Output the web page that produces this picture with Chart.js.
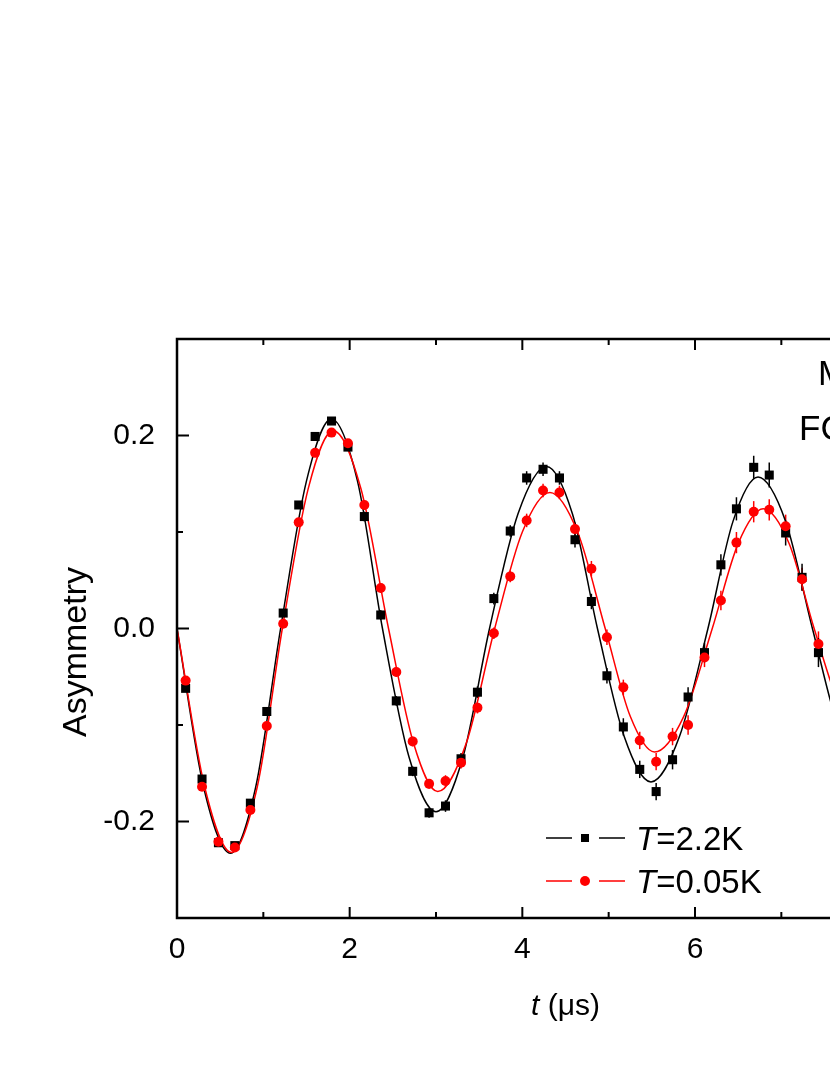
<!DOCTYPE html>
<html>
<head>
<meta charset="utf-8">
<script src="https://cdn.jsdelivr.net/npm/chart.js@4.4.1/dist/chart.umd.min.js"></script>
<style>
  html, body { margin: 0; padding: 0; background: #fff; overflow: hidden; }
  #wrap { width: 1000px; height: 1075px; }
</style>
</head>
<body>
<div id="wrap"><canvas id="asym" width="1000" height="1075"></canvas></div>
<script>
// ── Data ─────────────────────────────────────────────────────────────────
const timeUs = [0.10, 0.29, 0.48, 0.67, 0.85, 1.04, 1.23, 1.41, 1.60, 1.79,
                1.98, 2.17, 2.36, 2.54, 2.73, 2.92, 3.11, 3.29, 3.48, 3.67,
                3.86, 4.05, 4.24, 4.43, 4.61, 4.80, 4.98, 5.17, 5.36, 5.55,
                5.74, 5.92, 6.11, 6.30, 6.48, 6.68, 6.86, 7.05, 7.24, 7.43];

const asym22K = [-0.062, -0.156, -0.222, -0.225, -0.181, -0.086, 0.016, 0.128, 0.199, 0.215,
                 0.188, 0.116, 0.014, -0.075, -0.148, -0.191, -0.184, -0.135, -0.066, 0.031,
                 0.101, 0.156, 0.165, 0.156, 0.092, 0.028, -0.049, -0.102, -0.146, -0.169,
                 -0.136, -0.071, -0.025, 0.066, 0.124, 0.167, 0.159, 0.099, 0.053, -0.025];
const err22K = [0.003, 0.003, 0.003, 0.003, 0.003, 0.004, 0.004, 0.004, 0.004, 0.004,
                0.004, 0.005, 0.005, 0.005, 0.005, 0.005, 0.006, 0.006, 0.006, 0.006,
                0.006, 0.007, 0.007, 0.007, 0.008, 0.008, 0.008, 0.009, 0.009, 0.009,
                0.010, 0.010, 0.010, 0.011, 0.012, 0.012, 0.013, 0.013, 0.014, 0.015];

const asym005K = [-0.054, -0.164, -0.221, -0.227, -0.188, -0.101, 0.005, 0.110, 0.182, 0.203,
                  0.192, 0.128, 0.042, -0.045, -0.117, -0.161, -0.158, -0.139, -0.082, -0.005,
                  0.054, 0.112, 0.143, 0.141, 0.103, 0.062, -0.009, -0.061, -0.116, -0.138,
                  -0.112, -0.100, -0.030, 0.029, 0.089, 0.121, 0.123, 0.106, 0.051, -0.016];
const err005K = [0.003, 0.003, 0.003, 0.003, 0.003, 0.004, 0.004, 0.004, 0.004, 0.004,
                 0.004, 0.005, 0.005, 0.005, 0.005, 0.005, 0.006, 0.006, 0.006, 0.006,
                 0.006, 0.007, 0.007, 0.007, 0.007, 0.008, 0.008, 0.008, 0.009, 0.009,
                 0.009, 0.010, 0.010, 0.010, 0.011, 0.011, 0.011, 0.012, 0.012, 0.013];

// fit curves, sampled at extrema / zero crossings / half-way points
const fitT22K = [0, 0.31, 0.62, 0.91, 1.20, 1.50, 1.79, 2.09, 2.38, 2.69, 3.00, 3.31, 3.62,
                 3.95, 4.28, 4.58, 4.87, 5.18, 5.49, 5.82, 6.15, 6.44, 6.73, 7.05, 7.36, 7.67, 7.98];
const fitA22K = [0, -0.165, -0.233, -0.165, 0, 0.153, 0.217, 0.153, 0, -0.134, -0.190, -0.134, 0,
                 0.119, 0.168, 0.119, 0, -0.112, -0.159, -0.112, 0, 0.111, 0.157, 0.111, 0, -0.105, -0.150];
const fitT005K = [0, 0.32, 0.63, 0.93, 1.22, 1.52, 1.81, 2.13, 2.45, 2.74, 3.02, 3.35, 3.68,
                  4.00, 4.32, 4.64, 4.96, 5.25, 5.53, 5.87, 6.20, 6.50, 6.79, 7.09, 7.38, 7.68, 7.98];
const fitA005K = [0, -0.164, -0.232, -0.164, 0, 0.145, 0.205, 0.145, 0, -0.119, -0.169, -0.119, 0,
                  0.100, 0.141, 0.100, 0, -0.091, -0.128, -0.091, 0, 0.088, 0.124, 0.088, 0, -0.081, -0.115];

const xMajor = [0, 2, 4, 6, 8];
const xMinor = [1, 3, 5, 7, 9];
const yMajor = [-0.2, 0.0, 0.2];
const yMinor = [-0.3, -0.1, 0.1, 0.3];

const FONT = "'Liberation Sans', Arial, sans-serif";
const RED = '#ff0000';

const pts = (xs, ys) => xs.map((x, i) => ({ x, y: ys[i] }));

// ── Plugins ──────────────────────────────────────────────────────────────
const errorBars = {
    id: 'errorBars',
    beforeDatasetsDraw(chart) {
        const { ctx } = chart;
        const yS = chart.scales.y;
        chart.data.datasets.forEach((ds, i) => {
            if (!ds.errors) return;
            const meta = chart.getDatasetMeta(i);
            ctx.save();
            ctx.strokeStyle = ds.borderColor;
            ctx.lineWidth = 1.5;
            meta.data.forEach((p, j) => {
                const v = ds.data[j].y, e = ds.errors[j];
                ctx.beginPath();
                ctx.moveTo(p.x, yS.getPixelForValue(v - e));
                ctx.lineTo(p.x, yS.getPixelForValue(v + e));
                ctx.stroke();
            });
            ctx.restore();
        });
    }
};

function mixedText(ctx, parts, x, y) {
    // parts: [[text, italic, size], ...]
    parts.forEach(([txt, it, size]) => {
        ctx.font = `${it ? 'italic ' : ''}${size}px ${FONT}`;
        ctx.fillText(txt, x, y);
        x += ctx.measureText(txt).width;
    });
}

const frame = {
    id: 'frame',
    afterDraw(chart) {
        const { ctx, chartArea: a } = chart;
        const xS = chart.scales.x, yS = chart.scales.y;
        ctx.save();
        ctx.strokeStyle = '#000';
        ctx.lineWidth = 2.5;
        ctx.strokeRect(a.left, a.top, a.right - a.left, a.bottom - a.top);

        // inward ticks on all sides
        ctx.lineWidth = 2;
        ctx.beginPath();
        const xt = (vals, len) => vals.forEach(v => {
            const px = xS.getPixelForValue(v);
            ctx.moveTo(px, a.bottom); ctx.lineTo(px, a.bottom - len);
            ctx.moveTo(px, a.top); ctx.lineTo(px, a.top + len);
        });
        const yt = (vals, len) => vals.forEach(v => {
            const py = yS.getPixelForValue(v);
            ctx.moveTo(a.left, py); ctx.lineTo(a.left + len, py);
            ctx.moveTo(a.right, py); ctx.lineTo(a.right - len, py);
        });
        xt(xMajor, 11); xt(xMinor, 6);
        yt(yMajor, 12); yt(yMinor, 6);
        ctx.stroke();

        // axis titles
        ctx.fillStyle = '#000';
        ctx.textBaseline = 'alphabetic';
        ctx.font = `34px ${FONT}`;
        ctx.save();
        ctx.translate(86, 652);
        ctx.rotate(-Math.PI / 2);
        ctx.textAlign = 'center';
        ctx.fillText('Asymmetry', 0, 0);
        ctx.restore();

        ctx.textAlign = 'left';
        mixedText(ctx, [['t', true, 30], [' (\u03bcs)', false, 30]], 531, 1015);

        // annotation, cut by the right edge of the picture
        ctx.font = `35px ${FONT}`;
        ctx.fillText('M', 818, 385);
        ctx.fillText('FC', 799, 440);

        // legend
        const rows = [
            { y: 838, color: '#000', shape: 'square', label: '=2.2K' },
            { y: 881, color: RED, shape: 'circle', label: '=0.05K' }
        ];
        rows.forEach(r => {
            ctx.strokeStyle = r.color;
            ctx.fillStyle = r.color;
            ctx.lineWidth = 1.4;
            ctx.beginPath();
            ctx.moveTo(546, r.y); ctx.lineTo(572, r.y);
            ctx.moveTo(599, r.y); ctx.lineTo(625, r.y);
            ctx.stroke();
            if (r.shape === 'square') {
                ctx.fillRect(581, r.y - 4, 8, 8);
            } else {
                ctx.beginPath(); ctx.arc(585, r.y, 5, 0, Math.PI * 2); ctx.fill();
            }
            ctx.fillStyle = '#000';
            mixedText(ctx, [['T', true, 33], [r.label, false, 33]], 636, r.y + 12);
        });
        ctx.restore();
    }
};

// ── Chart ────────────────────────────────────────────────────────────────
new Chart(document.getElementById('asym'), {
    type: 'line',
    data: {
        datasets: [
            {
                label: 'T=0.05K',
                data: pts(timeUs, asym005K),
                errors: err005K,
                showLine: false,
                borderColor: RED,
                backgroundColor: RED,
                pointStyle: 'circle',
                pointRadius: 5,
                pointBorderWidth: 0,
                order: 1
            },
            {
                label: 'T=2.2K',
                data: pts(timeUs, asym22K),
                errors: err22K,
                showLine: false,
                borderColor: '#000',
                backgroundColor: '#000',
                pointStyle: 'rect',
                pointRadius: 6.4,
                pointBorderWidth: 0,
                order: 2
            },
            {
                label: 'fit 0.05K',
                data: pts(fitT005K, fitA005K),
                borderColor: RED,
                borderWidth: 1.5,
                pointRadius: 0,
                cubicInterpolationMode: 'monotone',
                order: 3
            },
            {
                label: 'fit 2.2K',
                data: pts(fitT22K, fitA22K),
                borderColor: '#000',
                borderWidth: 1.5,
                pointRadius: 0,
                cubicInterpolationMode: 'monotone',
                order: 4
            }
        ]
    },
    options: {
        responsive: false,
        animation: false,
        devicePixelRatio: 1,
        layout: { padding: { top: 339, right: 46, left: 0, bottom: 0 } },
        plugins: { legend: { display: false }, tooltip: { enabled: false } },
        scales: {
            x: {
                type: 'linear', min: 0, max: 9,
                grid: { display: false }, border: { display: false },
                afterBuildTicks: s => { s.ticks = xMajor.map(v => ({ value: v })); },
                afterFit: s => { s.height = 157; },
                ticks: { font: { family: FONT, size: 30 }, color: '#000', padding: 6, maxRotation: 0,
                         callback: v => String(v) }
            },
            y: {
                type: 'linear', min: -0.3, max: 0.3,
                grid: { display: false }, border: { display: false },
                afterBuildTicks: s => { s.ticks = yMajor.map(v => ({ value: v })); },
                afterFit: s => { s.width = 177; },
                ticks: { font: { family: FONT, size: 30 }, color: '#000', padding: 14,
                         callback: v => v.toFixed(1) }
            }
        }
    },
    plugins: [errorBars, frame]
});
</script>
</body>
</html>
